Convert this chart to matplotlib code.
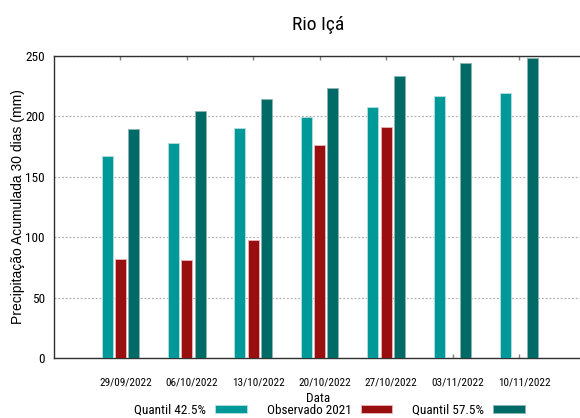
import matplotlib
matplotlib.use("Agg")
import matplotlib.pyplot as plt
import matplotlib.transforms as mtransforms
from matplotlib.patches import Patch
import numpy as np

NARROW = ['Roboto Condensed', 'Archivo Narrow', 'Liberation Sans', 'DejaVu Sans']
plt.rcParams['font.family'] = NARROW

dates = ["29/09/2022", "06/10/2022", "13/10/2022", "20/10/2022",
         "27/10/2022", "03/11/2022", "10/11/2022"]
q425 = [167.2, 178.3, 190.2, 199.9, 207.6, 216.5, 219.0]
obs2021 = [82.3, 80.8, 97.4, 176.2, 191.6, np.nan, np.nan]
q575 = [189.6, 204.3, 214.6, 223.2, 233.6, 243.9, 248.1]

title = "Rio Içá"
ylabel = "Precipitação Acumulada 30 dias (mm)"
xlabel = "Data"
labels = ["Quantil 42.5%", "Observado 2021", "Quantil 57.5%"]
colors = ["#009999", "#990e0e", "#006b66"]
edges = ["#b8e0e0", "#e8b8b8", "#8fb5b3"]

fig = plt.figure(figsize=(5.8, 4.18), dpi=100)
ax = fig.add_axes([54/580, 60/418, 528/580, 302/418])

x = np.arange(len(dates))
w = 0.165
off = 0.2
series = [q425, obs2021, q575]
for k, vals in enumerate(series):
    ax.bar(x + (k - 1) * off, vals, width=w, color=colors[k],
           edgecolor=edges[k], linewidth=0.6, zorder=3)

ax.set_xlim(-0.998, 6.948)
ax.set_ylim(0, 250)
ax.set_yticks([0, 50, 100, 150, 200, 250])
ax.grid(axis='y', linestyle=(0, (1.5, 1.5)), color='#b0b0b0', linewidth=0.9, zorder=0)
ax.set_axisbelow(True)

ax.set_xticks(x)
ax.set_xticklabels(dates, fontsize=8)
ax.tick_params(axis='x', direction='in', length=3, width=1, color='#808080',
               top=True, bottom=True, pad=14)
ax.tick_params(axis='y', length=0, pad=6.5, labelsize=9.5)
off_t = mtransforms.ScaledTranslation(5/100, 0, fig.dpi_scale_trans)
for lab in ax.get_xticklabels():
    lab.set_transform(lab.get_transform() + off_t)

ax.spines['right'].set_visible(False)
for s in ['left', 'bottom', 'top']:
    ax.spines[s].set_color('#303030')
    ax.spines[s].set_linewidth(1.0)

ax.set_xlabel(xlabel, fontsize=9.5)
ax.xaxis.set_label_coords(0.5, (358 - 401.7) / 302)
ax.xaxis.label.set_va('baseline')
ax.set_ylabel(ylabel, fontsize=10, family=['Liberation Sans', 'DejaVu Sans'])
ax.yaxis.set_label_coords((25 - 54) / 528, 0.5)
ax.set_title(title, fontsize=14, pad=19)

handles = [Patch(facecolor=colors[k], edgecolor=edges[k], linewidth=0.6) for k in range(3)]
fig.legend(handles, labels, loc='center', bbox_to_anchor=(329.5/580, 1 - 410.5/418),
           ncol=3, frameon=False, markerfirst=False, fontsize=9.5,
           handlelength=2.4, handleheight=0.55, handletextpad=0.7, columnspacing=1.5,
           borderpad=0, borderaxespad=0)

fig.savefig("out.png", dpi=100)
